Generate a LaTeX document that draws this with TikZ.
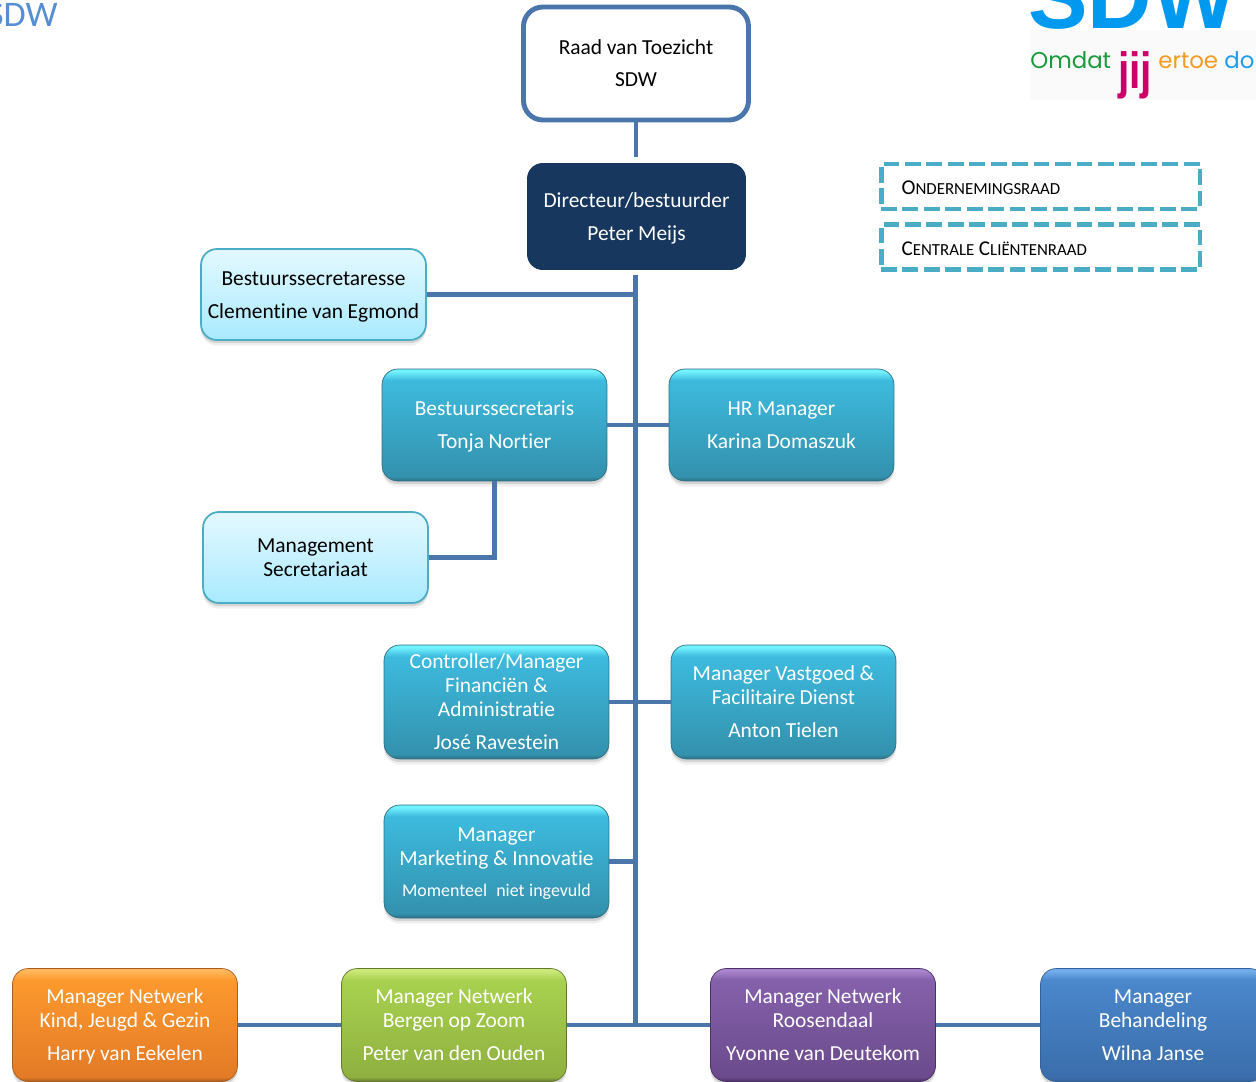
\documentclass[tikz,border=0pt]{standalone}
\usepackage{fontspec}
\setmainfont[Ligatures=NoCommon]{Carlito}
\newfontfamily\logofont{Liberation Sans}
\newfontfamily\sloganfont{Poppins}
\usetikzlibrary{shadows}
\definecolor{lineblue}{RGB}{74,118,172}
\definecolor{navy}{RGB}{23,55,94}
\definecolor{dashteal}{RGB}{75,172,198}
\definecolor{titleblue}{RGB}{85,142,213}
% glossy fill: rim, bottom, body top, highlight
\newcommand{\declaregloss}[5]{%
  \definecolor{rim#1}{rgb}{#2}%
  \pgfdeclareverticalshading{gloss#1}{100bp}{%
    rgb(0bp)=(#2); rgb(25bp)=(#2); rgb(27bp)=(#3); rgb(70bp)=(#4); rgb(74bp)=(#5); rgb(100bp)=(#5)}}
\declaregloss{teal}{.18,.43,.51}{.20,.57,.68}{.24,.73,.87}{.45,.95,1}
\declaregloss{orange}{.66,.36,.12}{.89,.48,.15}{.99,.60,.18}{1,.72,.36}
\declaregloss{green}{.39,.47,.18}{.56,.69,.25}{.66,.82,.31}{.80,.91,.48}
\declaregloss{purple}{.29,.19,.40}{.42,.29,.55}{.52,.38,.67}{.66,.52,.80}
\declaregloss{blue}{.20,.38,.60}{.23,.43,.67}{.29,.53,.80}{.45,.68,.92}
\declaregloss{pale}{.66,.91,1}{.67,.92,1}{.87,.97,1}{.88,.97,1}
% large first letter, smaller rest
\newcommand{\capsmall}[2]{#1{\fontsize{9.6}{13.6}\selectfont #2}}
\tikzset{
  base/.style={rectangle,rounded corners=9pt,minimum width=4.5cm,text width=4.5cm,inner sep=0pt,
    align=center,font=\fontsize{12.2}{13.6}\selectfont,
    execute at begin node={\spaceskip=2.6pt\relax\rule{0pt}{12.3pt}\strut},execute at end node=\strut},
  softshadow/.style={drop shadow={shadow xshift=0pt,shadow yshift=-3.2pt,opacity=.12},
    drop shadow={shadow xshift=0pt,shadow yshift=-1.8pt,opacity=.25}},
  shiny/.style={base,text=white,draw=rim#1,shading=gloss#1,softshadow},
  palebox/.style={base,draw=dashteal,line width=1pt,shading=glosspale,softshadow},
  raadbox/.style={dashed,dash pattern=on 9pt off 3.2pt,draw=dashteal,line width=2.8pt,
    minimum width=6.38cm,minimum height=.9cm,text width=5.56cm,inner xsep=0pt,align=left,
    text height=9.2pt,text depth=0pt,font=\fontsize{12}{13.6}\selectfont,
    execute at begin node={\spaceskip=2.6pt\relax}},
  conn/.style={draw=lineblue,line width=2.8pt}
}
\begin{document}
\begin{tikzpicture}[x=0.02cm,y=-0.02cm]
  \useasboundingbox (0,0) rectangle (1256,1081);
  \clip (0,0) rectangle (1256,1081);
  % heading and logo
  \node[anchor=base east,inner sep=0pt,text=titleblue,font=\fontsize{20.5}{24}\selectfont] (titel) at (58,27) {SDW};
  \fill[black!2] (1030,30) rectangle (1256,100);
  \node[anchor=base west,inner sep=0pt,text={rgb,255:red,0;green,153;blue,240},font=\logofont\bfseries\fontsize{50.8}{52}\selectfont] (logo) at (1028,29) {SDW};
  \node[anchor=base west,inner sep=0pt,text={rgb,255:red,26;green,154;blue,60},font=\sloganfont\fontsize{13}{14}\selectfont] (omdat) at (1030,69) {Omdat};
  \node[anchor=base west,inner sep=0pt,xscale=.8,text={rgb,255:red,204;green,0;blue,102},font=\logofont\bfseries\fontsize{29}{30}\selectfont] (jij) at (1118,89) {jij};
  \node[anchor=base west,inner sep=0pt,text={rgb,255:red,245;green,154;blue,35},font=\sloganfont\fontsize{13}{14}\selectfont] (ertoe) at (1158,69) {ertoe};
  \node[anchor=base west,inner sep=0pt,text={rgb,255:red,30;green,156;blue,240},font=\sloganfont\fontsize{13}{14}\selectfont] (doen) at (1224,69) {do};
  % top of the tree
  \node[base,draw=lineblue,line width=2.8pt,fill=white,rounded corners=11pt,minimum width=4.5cm,minimum height=2.26cm] (raad) at (636,63.5) {Raad van Toezicht\\[4.5pt]SDW};
  \node[base,fill=navy,text=white,minimum width=4.38cm,text width=4.38cm,minimum height=2.14cm] (directeur) at (636.5,216.5) {Directeur/bestuurder\\[5pt]Peter Meijs};
  \coordinate (raadend) at (636,157);
  \coordinate (trunktop) at (635.5,275);
  \coordinate (trunkend) at (635.5,1025);
  % staff left and right
  \node[palebox,minimum height=1.82cm] (secretaresse) at (313.5,294.5) {Bestuurssecretaresse\\[5pt]Clementine van Egmond};
  \node[shiny=teal,minimum height=2.24cm] (secretaris) at (494.5,425) {Bestuurssecretaris\\[5pt]Tonja Nortier};
  \node[shiny=teal,minimum height=2.24cm] (hr) at (781.5,425) {HR Manager\\[5pt]Karina Domaszuk};
  \node[palebox,minimum height=1.82cm] (secretariaat) at (315.5,557.5) {Management\\Secretariaat};
  \node[shiny=teal,minimum height=2.28cm] (controller) at (496.5,702) {Controller/Manager\\Financiën \&\\Administratie\\[5pt]José Ravestein};
  \node[shiny=teal,minimum height=2.28cm] (vastgoed) at (783.5,702) {Manager Vastgoed \&\\Facilitaire Dienst\\[5pt]Anton Tielen};
  \node[shiny=teal,minimum height=2.26cm] (marketing) at (496.5,861.5) {Manager\\Marketing \& Innovatie\\[4pt]{\fontsize{10.2}{12}\selectfont Momenteel\ \ niet ingevuld}};
  % networks
  \node[shiny=orange,minimum height=2.26cm] (kind) at (125,1025) {Manager Netwerk\\Kind, Jeugd \& Gezin\\[5pt]Harry van Eekelen};
  \node[shiny=green,minimum height=2.26cm] (bergen) at (454,1025) {Manager Netwerk\\Bergen op Zoom\\[5pt]Peter van den Ouden};
  \node[shiny=purple,minimum height=2.26cm] (roosendaal) at (823,1025) {Manager Netwerk\\Roosendaal\\[5pt]Yvonne van Deutekom};
  \node[shiny=blue,minimum height=2.26cm] (behandeling) at (1153,1025) {Manager\\Behandeling\\[5pt]Wilna Janse};
  % councils
  \node[raadbox] (ondernemingsraad) at (1040.5,186.5) {\capsmall{O}{NDERNEMINGSRAAD}};
  \node[raadbox] (clientenraad) at (1040.5,247) {\capsmall{C}{ENTRALE} \capsmall{C}{LIËNTENRAAD}};
  % connectors
  \draw[conn] (raad) -- (raadend);
  \draw[conn] (trunktop) -- (trunkend);
  \draw[conn] (secretaresse.east) -- (secretaresse.east -| trunktop);
  \draw[conn] (secretaris) -- (hr);
  \draw[conn] (secretaris.south) |- (secretariaat.east);
  \draw[conn] (controller) -- (vastgoed);
  \draw[conn] (marketing.east) -- (marketing.east -| trunktop);
  \draw[conn] (kind) -- (bergen);
  \draw[conn] (bergen) -- (roosendaal);
  \draw[conn] (roosendaal) -- (behandeling);
\end{tikzpicture}
\end{document}
